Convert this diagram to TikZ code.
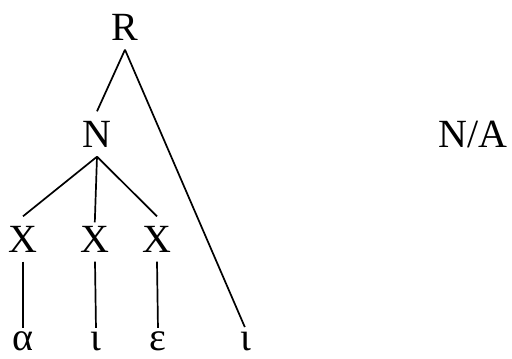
\documentclass[tikz,border=0pt]{standalone}
\usepackage{fontspec}
\setmainfont{Liberation Serif}
\begin{document}
\begin{tikzpicture}[x=1pt,y=-1pt,
  capbox/.style={anchor=base,inner xsep=2pt,inner ysep=9.5pt,text height=26pt,text depth=0pt,font=\fontsize{40}{44}\selectfont},
  lowbox/.style={anchor=base,inner xsep=2pt,inner ysep=2pt,text height=18pt,text depth=0pt,font=\fontsize{40}{44}\selectfont},
  treeline/.style={line width=1.7pt}]
\useasboundingbox (0,0) rectangle (512,359);
\node[capbox] (R) at (125,40) {R};
\node[capbox] (N) at (97,147) {N};
\node[capbox] (NA) at (473,147) {N/A};
\node[capbox] (X1) at (23,252) {X};
\node[capbox] (X2) at (95,252) {X};
\node[capbox] (X3) at (157,252) {X};
\node[lowbox] (g1) at (23,350) {α};
\node[lowbox] (g2) at (96,350) {ι};
\node[lowbox] (g3) at (158,350) {ε};
\node[lowbox] (g4) at (246,350) {ι};
\draw[treeline] (R.south) -- (N.north);
\draw[treeline, shorten >=3pt] (R.south) -- (g4.north);
\draw[treeline] (N.south) -- (X1.north);
\draw[treeline, shorten >=-6pt] (N.south) -- (X2.north);
\draw[treeline] (N.south) -- (X3.north);
\draw[treeline, shorten >=2pt] (X1.south) -- (g1.north);
\draw[treeline, shorten >=2pt] (X2.south) -- (g2.north);
\draw[treeline, shorten >=2pt] (X3.south) -- (g3.north);
\end{tikzpicture}
\end{document}
